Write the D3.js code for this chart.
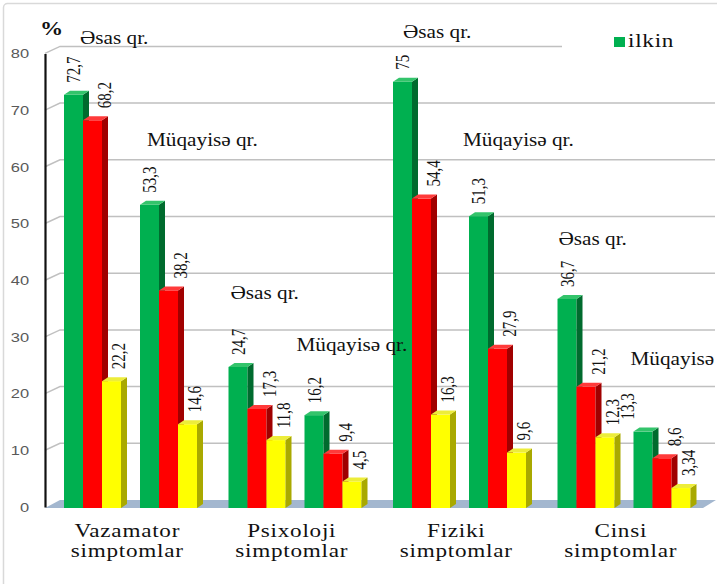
<!DOCTYPE html>
<html>
<head>
<meta charset="utf-8">
<script src="https://cdn.jsdelivr.net/npm/d3@7"></script>
<style>
    body { margin: 0; background: #fff; }
    #chart { width: 717px; height: 584px; }
</style>
</head>
<body>
<div id="chart"></div>
<script>

// ---- data ----
let categories = ["Vazamator simptomlar", "Psixoloji simptomlar", "Fiziki simptomlar", "Cinsi simptomlar"];
let groups = ["Əsas qr.", "Müqayisə qr."];
let seriesNames = ["ilkin", "seriya 2", "seriya 3"];

// one value per (category, group), in that order
let ilkinValues  = [72.7, 53.3, 24.7, 16.2, 75, 51.3, 36.7, 13.3];
let series2Values = [68.2, 38.2, 17.3, 9.4, 54.4, 27.9, 21.2, 8.6];
let series3Values = [22.2, 14.6, 11.8, 4.5, 16.3, 9.6, 12.3, 3.34];

let yTicks = [0, 10, 20, 30, 40, 50, 60, 70, 80];
let legendItems = ["ilkin"];

// text boxes typed on the chart (cat index, group index, level on y scale, x nudge)
let notes = [
    {text: "Əsas qr.", cat: 0, group: 0, level: 81.7, dx: 16},
    {text: "Müqayisə qr.", cat: 0, group: 1, level: 63.7, dx: 7},
    {text: "Əsas qr.", cat: 1, group: 0, level: 36.7, dx: 2},
    {text: "Müqayisə qr.", cat: 1, group: 1, level: 27.5, dx: -8},
    {text: "Əsas qr.", cat: 2, group: 0, level: 82.7, dx: 10},
    {text: "Müqayisə qr.", cat: 2, group: 1, level: 63.7, dx: -6},
    {text: "Əsas qr.", cat: 3, group: 0, level: 46.2, dx: 1},
    {text: "Müqayisə", cat: 3, group: 1, level: 25, dx: -3}
];

const SERIF = "'Liberation Serif', 'Times New Roman', serif";
const SANS = "'Liberation Sans', Arial, sans-serif";


class Bar3DVis {

    constructor(parentElement){
        this.parentElement = parentElement;
        this.initVis();
    }

    initVis(){
        let vis = this;

        vis.width = 717;
        vis.height = 584;
        vis.sx = 1.22; // picture is stretched sideways a bit

        vis.svg = d3.select("#" + vis.parentElement).append("svg")
            .attr("width", vis.width)
            .attr("height", vis.height);

        // outer frame
        vis.svg.append("rect")
            .attr("x", 3.5).attr("y", 3.5)
            .attr("width", 800).attr("height", 700)
            .attr("rx", 4)
            .attr("fill", "#fff")
            .attr("stroke", "#d9d9d9")
            .attr("stroke-width", 1.5);

        vis.x0 = d3.scaleBand().domain(categories).range([45, 703]);
        vis.x1 = d3.scaleBand().domain(d3.range(groups.length)).range([19, 152]).paddingInner(0.25);
        vis.x2 = d3.scaleBand().domain(seriesNames).range([0, vis.x1.bandwidth()]);
        vis.y = d3.scaleLinear().domain([0, 80]).range([507, 53.4]);

        vis.depth = {x: 15, y: 7};     // back wall offset
        vis.barDepth = {x: 6, y: 4};   // bar side offset

        vis.colors = {
            front: ["#00B050", "#FF0000", "#FFFF00"],
            side: ["#006B2E", "#A00000", "#A9A900"],
            top: ["#33C46B", "#FF3A3A", "#EDED3A"]
        };

        vis.wrangleData();
    }

    wrangleData(){
        let vis = this;
        let all = [ilkinValues, series2Values, series3Values];

        vis.bars = [];
        categories.forEach((c, ci) => {
            groups.forEach((g, gi) => {
                let k = ci * groups.length + gi;
                seriesNames.forEach((s, si) => {
                    vis.bars.push({cat: c, ci: ci, group: gi, series: s, si: si, k: k, value: all[si][k]});
                });
            });
        });

        vis.updateVis();
    }

    updateVis(){
        let vis = this;
        let d = vis.depth;
        let xLeft = vis.x0.range()[0];
        let xRight = vis.x0.range()[1];

        // back wall grid lines
        let grid = vis.svg.append("g").attr("class", "grid");
        yTicks.filter(t => t > 0).forEach(t => {
            let yy = vis.y(t);
            grid.append("path")
                .attr("d", `M${xLeft},${yy} L${xLeft + d.x},${yy - d.y} L${xRight + 12},${yy - d.y}`)
                .attr("fill", "none")
                .attr("stroke", "#c0c0c0")
                .attr("stroke-width", 1.5);
        });

        // white boxes under the typed notes (hide grid line, bars go over them)
        let noteBg = vis.svg.append("g");

        // floor
        vis.svg.append("path")
            .attr("d", `M${xLeft},${vis.y(0) + 1} L${xRight},${vis.y(0) + 1} L${xRight + 13},${vis.y(0) - d.y} L${xLeft + d.x},${vis.y(0) - d.y} Z`)
            .attr("fill", "#A3B7CF");

        // y axis
        let yAxis = d3.axisLeft(vis.y).tickValues(yTicks).tickSize(0).tickSizeOuter(0);
        let ax = vis.svg.append("g")
            .attr("transform", `translate(${xLeft},0)`)
            .call(yAxis);
        ax.select(".domain")
            .attr("stroke", "#111")
            .attr("stroke-width", 2.2);
        ax.selectAll(".tick text")
            .attr("x", -13)
            .attr("transform", `scale(${vis.sx},1)`)
            .style("font-family", SANS)
            .style("font-size", "13.5px")
            .attr("fill", "#595959");

        vis.svg.append("text")
            .attr("transform", `translate(40,35) scale(${vis.sx},1)`)
            .style("font-family", SERIF)
            .style("font-size", "19px")
            .style("font-weight", "bold")
            .attr("fill", "#111")
            .text("%");

        // bars
        let bd = vis.barDepth;
        let bw = vis.x2.bandwidth();
        let barX = b => vis.x0(b.cat) + vis.x1(b.group) + vis.x2(b.series);

        let barG = vis.svg.append("g").selectAll(".bar")
            .data(vis.bars)
            .enter().append("g")
            .attr("class", "bar");

        barG.append("rect")
            .attr("x", b => barX(b))
            .attr("y", b => vis.y(b.value))
            .attr("width", bw)
            .attr("height", b => vis.y(0) - vis.y(b.value) + 1)
            .attr("fill", b => vis.colors.front[b.si]);

        barG.append("path")
            .attr("d", b => {
                let x = barX(b) + bw, t = vis.y(b.value), bot = vis.y(0) + 1;
                return `M${x},${t} L${x + bd.x},${t - bd.y} L${x + bd.x},${bot - bd.y} L${x},${bot} Z`;
            })
            .attr("fill", b => vis.colors.side[b.si]);

        barG.append("path")
            .attr("d", b => {
                let x = barX(b), t = vis.y(b.value);
                return `M${x},${t} L${x + bd.x},${t - bd.y} L${x + bw + bd.x},${t - bd.y} L${x + bw},${t} Z`;
            })
            .attr("fill", b => vis.colors.top[b.si]);

        // notes text on top
        notes.forEach(n => {
            let nx = vis.x0(categories[n.cat]) + vis.x1(n.group) + n.dx;
            let tf = `translate(${nx},${vis.y(n.level)}) scale(1.18,1)`;
            let t = vis.svg.append("text")
                .attr("transform", tf)
                .style("font-family", SERIF)
                .style("font-size", "18px")
                .attr("fill", "#111")
                .text(n.text);
            let bb = t.node().getBBox();
            noteBg.append("rect")
                .attr("transform", tf)
                .attr("x", bb.x).attr("y", bb.y + 2)
                .attr("width", bb.width - 8).attr("height", bb.height - 4)
                .attr("fill", "#fff");
        });

        // value labels (rotated)
        let labelDx = [0, 12, 7];
        let labelNudge = {"7-0": -16};
        vis.svg.append("g").selectAll(".val")
            .data(vis.bars)
            .enter().append("text")
            .attr("class", "val")
            .attr("transform", b => {
                let cx = barX(b) + bw / 2 + labelDx[b.si] + (labelNudge[b.k + "-" + b.si] || 0);
                return `translate(${cx},${vis.y(b.value) - 12}) scale(1.3,1) rotate(-90)`;
            })
            .attr("dy", "0.35em")
            .style("font-family", SERIF)
            .style("font-size", "15px")
            .attr("fill", "#111")
            .text(b => String(b.value).replace(".", ","));

        // category labels
        let catG = vis.svg.append("g").selectAll(".cat")
            .data(categories)
            .enter().append("text")
            .attr("class", "cat")
            .attr("transform", c => `translate(${vis.x0(c) + vis.x0.bandwidth() / 2},537) scale(${vis.sx},1)`)
            .attr("text-anchor", "middle")
            .style("font-family", SERIF)
            .style("font-size", "19px")
            .style("letter-spacing", "0.6px")
            .attr("fill", "#111");
        catG.selectAll("tspan")
            .data(c => c.split(" "))
            .enter().append("tspan")
            .attr("x", 0)
            .attr("dy", (t, i) => i === 0 ? 0 : 20)
            .text(t => t);

        // legend
        let lg = vis.svg.append("g");
        lg.append("rect")
            .attr("x", 562).attr("y", 30)
            .attr("width", 160).attr("height", 22)
            .attr("fill", "#fff");
        legendItems.forEach((name, i) => {
            lg.append("rect")
                .attr("x", 614).attr("y", 37)
                .attr("width", 11).attr("height", 10)
                .attr("fill", vis.colors.front[seriesNames.indexOf(name)]);
            lg.append("text")
                .attr("transform", `translate(628,47) scale(${vis.sx},1)`)
                .style("font-family", SERIF)
                .style("font-size", "19px")
                .style("letter-spacing", "0.6px")
                .attr("fill", "#111")
                .text(name);
        });
    }
}

let myVis = new Bar3DVis("chart");

</script>
</body>
</html>
